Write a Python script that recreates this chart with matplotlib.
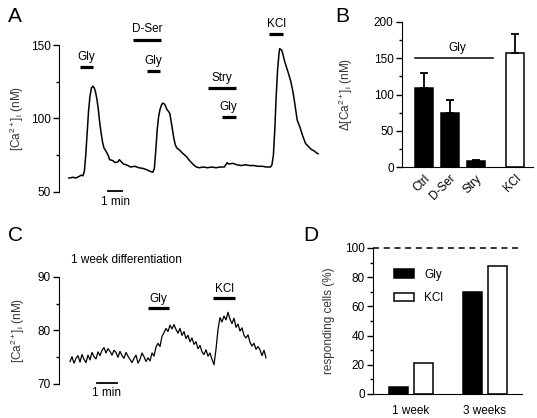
import numpy as np
import matplotlib.pyplot as plt
from matplotlib.patches import Patch

plt.rcParams['font.family'] = ['Liberation Sans', 'DejaVu Sans']
plt.rcParams['font.size'] = 8.5
plt.rcParams['mathtext.fontset'] = 'custom'
plt.rcParams['mathtext.rm'] = 'Liberation Sans'
plt.rcParams['mathtext.it'] = 'Liberation Sans'

# ---- panel A: Ca trace (time in min, [Ca2+] in nM)
a_time = [0.0, 0.3, 0.5, 0.7, 0.9, 1.0, 1.1, 1.2, 1.3, 1.4, 1.5, 1.6, 1.7, 1.8, 1.9,
          2.0, 2.1, 2.2, 2.3, 2.4, 2.5, 2.6, 2.8, 2.9, 3.1, 3.3, 3.5, 3.6, 3.7, 3.9,
          4.1, 4.4, 4.7, 5.0, 5.3, 5.6, 5.8, 6.0, 6.1, 6.2, 6.3, 6.4, 6.5, 6.6, 6.7,
          6.8, 6.9, 7.0, 7.1, 7.2, 7.3, 7.4, 7.5, 7.6, 7.7, 7.9, 8.1, 8.4, 8.6, 8.9,
          9.1, 9.3, 9.6, 9.9, 10.2, 10.5, 10.8, 11.1, 11.3, 11.4, 11.7, 12.0, 12.3,
          12.6, 12.9, 13.2, 13.5, 13.8, 14.1, 14.4, 14.5, 14.6, 14.7, 14.8, 14.9,
          15.0, 15.05, 15.2, 15.3, 15.4, 15.5, 15.6, 15.7, 15.85, 16.0, 16.1, 16.3,
          16.5, 16.7, 16.9, 17.1, 17.3, 17.5, 17.7, 17.8]
a_ca = [59.5, 60.0, 59.5, 60.5, 61.5, 61.0, 64, 75, 90, 105, 115, 120.5, 122, 121, 118,
        113, 106, 97, 90, 84, 80, 78.5, 75, 72, 71.5, 70, 70.5, 72, 71, 69,
        68.5, 67, 67.5, 66.5, 66, 65, 64, 63.5, 66, 78, 92, 101, 106, 109, 110.5,
        110, 108.5, 106, 105, 103.5, 98, 92, 86, 82, 80, 78.5, 76.5, 74, 71.5, 68.5,
        67, 66.5, 67, 66.5, 67, 66.5, 67, 67, 70, 69, 69.5, 68.5, 68,
        68.5, 68, 68, 67.5, 67.5, 67, 67, 68.5, 75, 92, 115, 133,
        144, 147.5, 146.5, 143, 139, 136, 133, 130, 125, 118, 112, 99,
        94, 88, 83, 81, 79, 78, 76.5, 76]

# application bars: (label, start, stop, level)
a_bars = [("Gly", 0.8, 1.7, 135), ("D-Ser", 4.6, 6.6, 153.5), ("Gly", 5.6, 6.5, 132),
          ("Stry", 9.9, 11.9, 120.5), ("Gly", 10.9, 11.9, 101), ("KCl", 14.3, 15.3, 157.5)]

# ---- panel B: delta Ca (nM)
b_labels = ["Ctrl", "D-Ser", "Stry", "KCl"]
b_pos = [0, 1, 2, 3.5]
b_mean = [109, 75, 8, 157]
b_err = [21, 17, 2, 27]
b_colors = ["black", "black", "black", "white"]

# ---- panel C: 1 week differentiation trace
c_ca = [74.2, 75.1, 73.9, 74.8, 75.3, 74.1, 75.5, 74.6, 74.0, 75.4, 74.5,
        75.9, 75.1, 74.7, 76.0, 75.3, 76.3, 76.8, 75.8, 76.6, 76.1,
        75.4, 76.3, 75.9, 75.0, 76.1, 75.3, 74.8, 75.9, 75.2, 74.6,
        74.0, 74.8, 75.4, 73.9, 74.6, 75.8, 75.1, 74.2, 74.9, 74.3,
        75.8, 75.2, 76.9, 77.6, 77.0, 78.9, 79.6, 80.4, 79.8, 81.0,
        80.3, 81.1, 80.2, 79.5, 80.4, 79.1, 79.8, 78.5, 79.1, 77.9,
        78.6, 77.4, 77.9, 76.6, 77.2, 76.0, 75.5, 76.4, 75.2, 75.8,
        74.6, 73.6, 76.5, 80.2, 82.4,
        81.6, 82.7, 82.0, 83.4, 82.1, 81.3, 82.3, 80.6, 81.2, 79.9,
        80.5, 79.1, 78.6, 79.2, 77.8, 77.1, 77.6, 76.5, 77.0, 76.4, 75.3, 76.3, 74.9]
c_time = np.linspace(0, 9.8, len(c_ca))
c_bars = [("Gly", 3.9, 4.95, 84.2), ("KCl", 7.15, 8.25, 86.1)]

# ---- panel D: responding cells (%)
d_groups = ["1 week", "3 weeks"]
d_gly = [5, 70]
d_kcl = [21, 87.5]

fig = plt.figure(figsize=(5.37, 4.18), dpi=100)
W, H = 537, 418


def add_ax(l, t, r, b):
    return fig.add_axes([l / W, 1 - b / H, (r - l) / W, (b - t) / H])


def style(ax):
    for s in ["top", "right"]:
        ax.spines[s].set_visible(False)
    ax.tick_params(direction="out", length=4, width=1, pad=2)
    ax.tick_params(which="minor", direction="out", length=2.5, width=1)


ylab_a = r"[Ca$^{2+}$]$_{\rm i}$ (nM)"

# A
ax = add_ax(59, 45, 320, 192)
style(ax)
ax.spines["bottom"].set_visible(False)
ax.set_xticks([])
ax.plot(a_time, a_ca, color="black", lw=1.1)
ax.set_xlim(-0.71, 17.93)
ax.set_ylim(50, 150)
ax.set_yticks([50, 100, 150])
ax.set_yticks([75, 125], minor=True)
ax.set_ylabel(ylab_a, color="#333333")
ax.yaxis.set_label_coords(-0.125, 0.5)
for lab, t0, t1, lev in a_bars:
    ax.plot([t0, t1], [lev, lev], color="black", lw=2.3, clip_on=False, solid_capstyle="butt")
    ax.text((t0 + t1) / 2, lev + 3, lab, ha="center", va="bottom")
ax.plot([2.8, 3.8], [50.7, 50.7], color="black", lw=1.3, clip_on=False)
ax.text(3.3, 47, "1 min", ha="center", va="top")
fig.text(8 / W, 1 - 16 / H, "A", fontsize=15, va="center")

# B
ax = add_ax(402, 22, 533, 167)
style(ax)
ax.bar(b_pos, b_mean, width=0.7, color=b_colors, edgecolor="black", lw=1.1,
       yerr=[[0] * 4, b_err], error_kw=dict(ecolor="black", elinewidth=1.3, capsize=3, capthick=1.3))
ax.set_xlim(-0.83, 4.2)
ax.set_ylim(0, 200)
ax.set_yticks([0, 50, 100, 150, 200])
ax.set_yticks([25, 75, 125, 175], minor=True)
ax.set_xticks(b_pos)
ax.set_xticklabels(b_labels, rotation=45, ha="right", rotation_mode="anchor")
ax.tick_params(axis="x", length=0, pad=4)
ax.plot([-0.33, 2.67], [150, 150], color="black", lw=1.1, clip_on=False)
ax.text(1.3, 156, "Gly", ha="center", va="bottom")
ax.set_ylabel(r"$\Delta$" + ylab_a, color="#333333")
ax.yaxis.set_label_coords(-0.36, 0.5)
fig.text(335 / W, 1 - 16 / H, "B", fontsize=15, va="center")

# C
ax = add_ax(59, 277, 270, 384)
style(ax)
ax.spines["bottom"].set_visible(False)
ax.set_xticks([])
ax.plot(c_time, c_ca, color="black", lw=0.9)
ax.set_xlim(-0.55, 10)
ax.set_ylim(70, 90)
ax.set_yticks([70, 80, 90])
ax.set_yticks([75, 85], minor=True)
ax.set_ylabel(ylab_a, color="#333333")
ax.yaxis.set_label_coords(-0.152, 0.5)
for lab, t0, t1, lev in c_bars:
    ax.plot([t0, t1], [lev, lev], color="black", lw=2.3, clip_on=False, solid_capstyle="butt")
    ax.text((t0 + t1) / 2, lev + 0.6, lab, ha="center", va="bottom")
ax.plot([1.35, 2.35], [70.2, 70.2], color="black", lw=1.3, clip_on=False)
ax.text(1.85, 69.4, "1 min", ha="center", va="top")
ax.text(0.05, 93.2, "1 week differentiation", ha="left", va="center")
fig.text(8 / W, 1 - 236 / H, "C", fontsize=15, va="center")

# D
ax = add_ax(373, 248, 522, 394)
style(ax)
x = np.arange(len(d_groups))
ax.bar(x - 0.17, d_gly, width=0.26, color="black", edgecolor="black", lw=1.1)
ax.bar(x + 0.17, d_kcl, width=0.26, color="white", edgecolor="black", lw=1.1)
ax.axhline(100, color="black", lw=1.1, ls=(0, (4, 3)), clip_on=False)
ax.set_xlim(-0.51, 1.5)
ax.set_ylim(0, 100)
ax.set_yticks([0, 20, 40, 60, 80, 100])
ax.set_yticks([10, 30, 50, 70, 90], minor=True)
ax.set_xticks(x)
ax.set_xticklabels(d_groups)
ax.tick_params(axis="x", length=0, pad=8)
ax.set_ylabel("responding cells (%)", color="#333333")
ax.yaxis.set_label_coords(-0.255, 0.5)
handles = [Patch(facecolor="black", edgecolor="black", lw=1.1),
           Patch(facecolor="white", edgecolor="black", lw=1.1)]
ax.legend(handles, ["Gly", "KCl"], loc="upper left", bbox_to_anchor=(0.1, 0.9),
          frameon=False, handlelength=1.7, handleheight=0.7, labelspacing=1.0,
          borderpad=0, handletextpad=0.9)
fig.text(303 / W, 1 - 236 / H, "D", fontsize=15, va="center")

fig.savefig("out.png", dpi=100)
